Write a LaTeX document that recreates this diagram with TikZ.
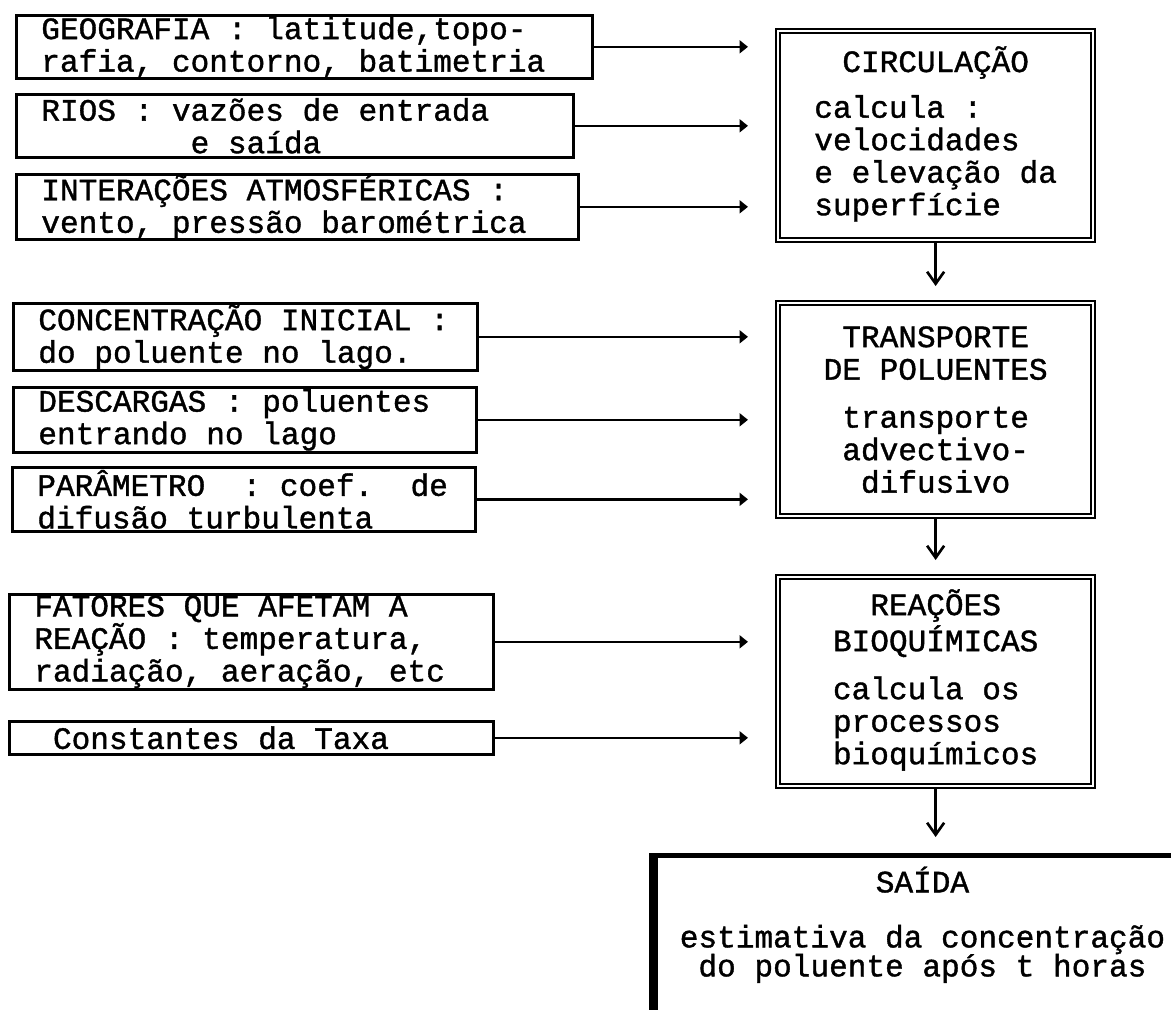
\documentclass[tikz,border=0pt]{standalone}
\usepackage{fontspec}
\newfontfamily\maquina[FakeBold=1.2]{Liberation Mono}
\usepackage{tikz}
\usetikzlibrary{arrows.meta}
\newcommand{\bloco}[1]{\begin{tabular}{@{}l@{}}#1\end{tabular}}

\begin{document}
\begin{tikzpicture}[font={\maquina\fontsize{8.85pt}{9.25pt}\selectfont},
  >={Triangle[length=0.85mm,width=1.3mm]},
  entrada/.style={draw,line width=0.75pt,anchor=north west,align=flush left,inner xsep=2.5mm,inner ysep=0pt},
  modelo/.style={draw,line width=0.65pt,double,double distance=0.5pt,anchor=north west,align=center,minimum width=31.5mm},
  seta/.style={->,line width=0.75pt,shorten >=2.9mm},
  desce/.style={-{Straight Barb[length=1.2mm,width=1.7mm]},line width=0.75pt,shorten >=1.6mm}]
  \useasboundingbox (0,0) rectangle (11.71,-10.09);
  \clip (0,0) rectangle (11.71,-10.09);
  \node[entrada,text width=52.6mm,minimum height=6.3mm] (geo) at (0.15,-0.14)
    {GEOGRAFIA : latitude,topo-\\rafia, contorno, batimetria};
  \node[entrada,text width=50.7mm,minimum height=6.3mm] (rios) at (0.15,-0.93)
    {RIOS : vazões de entrada\\~~~~~~~~e saída};
  \node[entrada,text width=51.2mm,minimum height=6.5mm] (atm) at (0.15,-1.73)
    {INTERAÇÕES ATMOSFÉRICAS :\\vento, pressão barométrica};
  \node[entrada,text width=41.4mm,minimum height=6.7mm] (conc) at (0.12,-3.02)
    {CONCENTRAÇÃO INICIAL :\\do poluente no lago.};
  \node[entrada,text width=41.3mm,minimum height=6.5mm] (desc) at (0.12,-3.86)
    {DESCARGAS : poluentes\\entrando no lago};
  \node[entrada,text width=41.3mm,minimum height=6.4mm] (param) at (0.11,-4.66)
    {PARÂMETRO~~: coef.~~de\\difusão turbulenta};
  \node[entrada,text width=43.4mm,minimum height=9.5mm] (fat) at (0.08,-5.93)
    {FATORES QUE AFETAM A\\REAÇÃO : temperatura,\\radiação, aeração, etc};
  \node[entrada,text width=43.4mm,minimum height=3.3mm] (taxa) at (0.08,-7.20)
    {~Constantes da Taxa};

  \node[modelo,minimum height=20.9mm] (circ) at (7.77,-0.30)
    {CIRCULAÇÃO\\[3.6pt]\bloco{calcula :\\velocidades\\e elevação da\\superfície}};
  \node[modelo,minimum height=21.3mm] (trans) at (7.77,-3.02)
    {TRANSPORTE\\DE POLUENTES\\[4.4pt]transporte\\advectivo-\\difusivo};
  \node[modelo,minimum height=20.9mm] (reac) at (7.77,-5.76)
    {REAÇÕES\\BIOQUÍMICAS\\[4.5pt]\bloco{calcula os\\processos\\bioquímicos}};
  \node[draw,line width=1.4pt,anchor=north west,align=flush center,text width=53.4mm,
    inner xsep=0pt,inner ysep=3pt,text height=7.5pt,text depth=42pt] (saida) at (6.53,-8.53)
    {SAÍDA\\[6.4pt]estimativa da concentração\\[-1pt]do poluente após t horas};
  \draw[line width=2.2pt] (saida.north west) -- (saida.south west);

  \draw[seta] (geo.east) -- (geo.east -| circ.west);
  \draw[seta] (rios.east) -- (rios.east -| circ.west);
  \draw[seta] (atm.east) -- (atm.east -| circ.west);
  \draw[seta] (conc.east) -- (conc.east -| trans.west);
  \draw[seta] (desc.east) -- (desc.east -| trans.west);
  \draw[seta] (param.east) -- (param.east -| trans.west);
  \draw[seta] (fat.east) -- (fat.east -| reac.west);
  \draw[seta] (taxa.east) -- (taxa.east -| reac.west);
  \draw[desce] (circ.south) -- (trans.north);
  \draw[desce] (trans.south) -- (reac.north);
  \draw[desce] (reac.south) -- (reac.south |- saida.north);
\end{tikzpicture}
\end{document}
